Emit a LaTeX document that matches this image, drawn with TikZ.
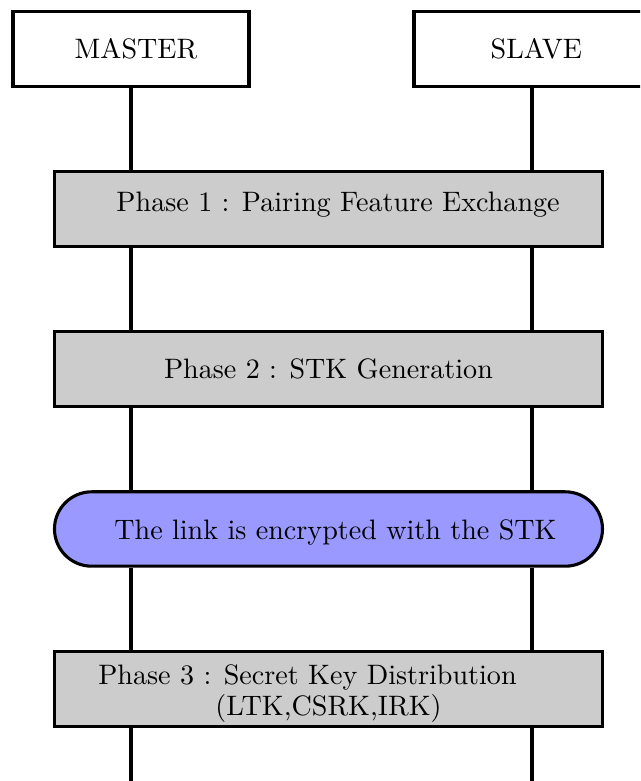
\documentclass[tikz,border=0pt]{standalone}
\usepackage{amsmath}
\usepackage{tikz}
\tikzset{
	actor/.style={draw,line width=1.1pt,fill=white,minimum width=2.95cm,minimum height=0.93cm},
	phase/.style={draw,line width=1.1pt,fill=black!20,minimum width=6.85cm,minimum height=0.93cm,align=center},
	link/.style={draw,line width=1.1pt,fill=blue!40,rounded corners=0.465cm,minimum width=6.85cm,minimum height=0.93cm},
	life/.style={line width=1.1pt}
}
\begin{document}
\begin{tikzpicture}
						\clip (0,0) rectangle (8,9.7625);
						\node [actor] (master) at (1.6375,9.15) {\kern0.125cm MASTER};
						\node [actor] (slave) at (6.65,9.15) {\kern0.11cm SLAVE};
						\node [phase,text height=6.94pt,text depth=4.8pt] (p1) at (4.106,7.15) {\kern0.24cm Phase 1 : Pairing Feature Exchange};
						\node [phase] (p2) at (4.106,5.15) {Phase 2 : STK Generation};
						\node [link,text height=7.4pt,text depth=0pt] (enc) at (4.106,3.15) {\kern0.175cm The link is encrypted with the STK};
						\node [phase,inner ysep=1pt] (p3) at (4.106,1.15) {\rule{0pt}{10.3pt}Phase 3 : Secret Key Distribution\kern0.525cm\\[-1pt](LTK,CSRK,IRK)};
						\coordinate (mend) at (1.6375,0);
						\coordinate (send) at (6.65,0);

						\foreach \a/\b in {master/p1,p1/p2,p2/enc,enc/p3,p3/mend} {
							\draw [life] (master |- \a.south) -- (master |- \b.north);
						}
						\foreach \a/\b in {slave/p1,p1/p2,p2/enc,enc/p3,p3/send} {
							\draw [life] (slave |- \a.south) -- (slave |- \b.north);
						}
					\end{tikzpicture}
\end{document}
